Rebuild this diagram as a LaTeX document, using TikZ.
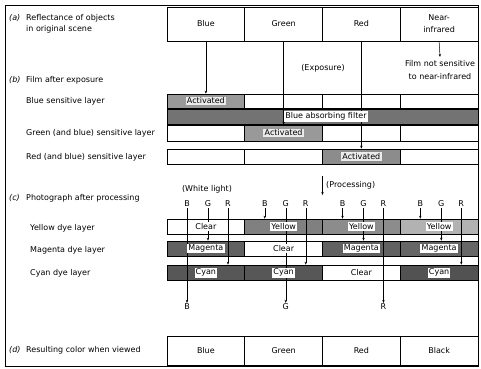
\documentclass[tikz,border=0pt]{standalone}
\usepackage{fontspec}
\setmainfont{DejaVu Sans}
\usetikzlibrary{arrows.meta}
\begin{document}
\begin{tikzpicture}[x=1pt,y=-1pt,
  every node/.style={font=\fontsize{8}{10}\selectfont},
  cell/.style={draw, line width=0.6pt, inner sep=0pt, minimum width=77.75pt, align=center},
  tag/.style={fill=white, inner sep=1.2pt},
  acttag/.style={fill=black!8, inner sep=1.2pt},
  lbl/.style={anchor=west, inner sep=0pt, align=left},
  arr/.style={line width=0.5pt, -{Stealth[length=3pt,width=2.4pt]}},
  ltr/.style={inner sep=1pt}
]
\useasboundingbox (0,0) rectangle (481,368);
\node[draw, line width=0.8pt, minimum width=473pt, minimum height=361pt, inner sep=0pt] (frame) at (241.5,185.5) {};

% (a) row
\node[cell, minimum height=34pt] (a1) at (205.875,24) {Blue};
\node[cell, minimum height=34pt] (a2) at (283.625,24) {Green};
\node[cell, minimum height=34pt] (a3) at (361.375,24) {Red};
\node[cell, minimum height=34pt, font=\fontsize{8}{12}\selectfont] (a4) at (439.125,24) {Near-\\infrared};

% left labels
\node[lbl] (la) at (9,18) {\textit{(a)}};
\node[lbl, font=\fontsize{8}{11}\selectfont] (lat) at (26,23.5) {Reflectance of objects\\in original scene};
\node[lbl] (lb) at (9,80) {\textit{(b)}};
\node[lbl] (lbt) at (26,80) {Film after exposure};
\node[lbl] (lb1) at (26,101) {Blue sensitive layer};
\node[lbl] (lb2) at (26,133) {Green (and blue) sensitive layer};
\node[lbl] (lb3) at (26,157) {Red (and blue) sensitive layer};
\node[lbl] (lc) at (9,198) {\textit{(c)}};
\node[lbl] (lct) at (26,198) {Photograph after processing};
\node[lbl] (lc1) at (30,228) {Yellow dye layer};
\node[lbl] (lc2) at (30,250) {Magenta dye layer};
\node[lbl] (lc3) at (30,273) {Cyan dye layer};
\node[lbl] (ld) at (9,350) {\textit{(d)}};
\node[lbl] (ldt) at (26,350) {Resulting color when viewed};

% (b) film layers
\node[cell, minimum height=14pt, fill=black!40] (bl1) at (205.875,101) {};
\node[cell, minimum height=14pt] (bl2) at (283.625,101) {};
\node[cell, minimum height=14pt] (bl3) at (361.375,101) {};
\node[cell, minimum height=14pt] (bl4) at (439.125,101) {};
\node[draw, line width=0.6pt, fill=black!55, minimum width=311pt, minimum height=15pt, inner sep=0pt] (filt) at (322.5,116.5) {};
\node[cell, minimum height=16pt] (gl1) at (205.875,133) {};
\node[cell, minimum height=16pt, fill=black!40] (gl2) at (283.625,133) {};
\node[cell, minimum height=16pt] (gl3) at (361.375,133) {};
\node[cell, minimum height=16pt] (gl4) at (439.125,133) {};
\node[cell, minimum height=15pt] (rl1) at (205.875,156.5) {};
\node[cell, minimum height=15pt] (rl2) at (283.625,156.5) {};
\node[cell, minimum height=15pt, fill=black!45] (rl3) at (361.375,156.5) {};
\node[cell, minimum height=15pt] (rl4) at (439.125,156.5) {};

% exposure connectors
\draw[arr] (a1.south) -- (bl1.north);
\draw[arr] (a2.south) -- (gl2.north);
\draw[arr] (a3.south) -- (rl3.north);

\node[acttag] (t1) at (bl1) {Activated};
\node[tag] (tf) at (326,116.5) {Blue absorbing filter};
\node[acttag] (t2) at (gl2) {Activated};
\node[acttag] (t3) at (rl3) {Activated};

\node (expo) at (323,68) {(Exposure)};
\node[align=center, font=\fontsize{8}{13}\selectfont] (nir) at (440,70) {Film not sensitive\\to near-infrared};
\draw[arr] (a4.south) -- (nir.north);

% processing
\coordinate (pA) at (322.5,176);
\coordinate (pB) at (322.5,195);
\draw[arr] (pA) -- (pB);
\node[lbl] (proc) at (326,185) {(Processing)};
\node (wl) at (207,189) {(White light)};

% (c) dye layers
\node[cell, minimum height=15pt] (y1) at (205.875,226.5) {};
\node[cell, minimum height=15pt, fill=black!50] (y2) at (283.625,226.5) {};
\node[cell, minimum height=15pt, fill=black!45] (y3) at (361.375,226.5) {};
\node[cell, minimum height=15pt, fill=black!30] (y4) at (439.125,226.5) {};
\node[cell, minimum height=15pt, fill=black!62] (m1) at (205.875,248.5) {};
\node[cell, minimum height=15pt] (m2) at (283.625,248.5) {};
\node[cell, minimum height=15pt, fill=black!62] (m3) at (361.375,248.5) {};
\node[cell, minimum height=15pt, fill=black!60] (m4) at (439.125,248.5) {};
\node[cell, minimum height=15pt, fill=black!66] (c1) at (205.875,272.5) {};
\node[cell, minimum height=15pt, fill=black!66] (c2) at (283.625,272.5) {};
\node[cell, minimum height=15pt] (c3) at (361.375,272.5) {};
\node[cell, minimum height=15pt, fill=black!68] (c4) at (439.125,272.5) {};

% light letters
\node[ltr] (B1) at (187,204) {B};
\node[ltr] (G1) at (208,204) {G};
\node[ltr] (R1) at (228,204) {R};
\node[ltr] (B2) at (264.75,204) {B};
\node[ltr] (G2) at (285.75,204) {G};
\node[ltr] (R2) at (305.75,204) {R};
\node[ltr] (B3) at (342.5,204) {B};
\node[ltr] (G3) at (363.5,204) {G};
\node[ltr] (R3) at (383.5,204) {R};
\node[ltr] (B4) at (420.25,204) {B};
\node[ltr] (G4) at (441.25,204) {G};
\node[ltr] (R4) at (461.25,204) {R};
\node[ltr] (Bo) at (187,307) {B};
\node[ltr] (Go) at (285.75,307) {G};
\node[ltr] (Ro) at (383.5,307) {R};

\draw[arr] (B1) -- (Bo);
\draw[arr] (G1) -- (G1 |- m1.north);
\draw[arr] (R1) -- (R1 |- c1.north);
\draw[arr] (B2) -- (B2 |- y2.north);
\draw[arr] (G2) -- (Go);
\draw[arr] (R2) -- (R2 |- c2.north);
\draw[arr] (B3) -- (B3 |- y3.north);
\draw[arr] (G3) -- (G3 |- m3.north);
\draw[arr] (R3) -- (Ro);
\draw[arr] (B4) -- (B4 |- y4.north);
\draw[arr] (G4) -- (G4 |- m4.north);
\draw[arr] (R4) -- (R4 |- c4.north);

% dye tags
\node[tag] (ty1) at (y1) {Clear};
\node[tag] (ty2) at (y2) {Yellow};
\node[tag] (ty3) at (y3) {Yellow};
\node[tag] (ty4) at (y4) {Yellow};
\node[tag] (tm1) at (m1) {Magenta};
\node[tag] (tm2) at (m2) {Clear};
\node[tag] (tm3) at (m3) {Magenta};
\node[tag] (tm4) at (m4) {Magenta};
\node[tag] (tc1) at (c1) {Cyan};
\node[tag] (tc2) at (c2) {Cyan};
\node[tag] (tc3) at (c3) {Clear};
\node[tag] (tc4) at (c4) {Cyan};

% (d) row
\node[cell, minimum height=29pt] (d1) at (205.875,350.5) {Blue};
\node[cell, minimum height=29pt] (d2) at (283.625,350.5) {Green};
\node[cell, minimum height=29pt] (d3) at (361.375,350.5) {Red};
\node[cell, minimum height=29pt] (d4) at (439.125,350.5) {Black};
\end{tikzpicture}
\end{document}
